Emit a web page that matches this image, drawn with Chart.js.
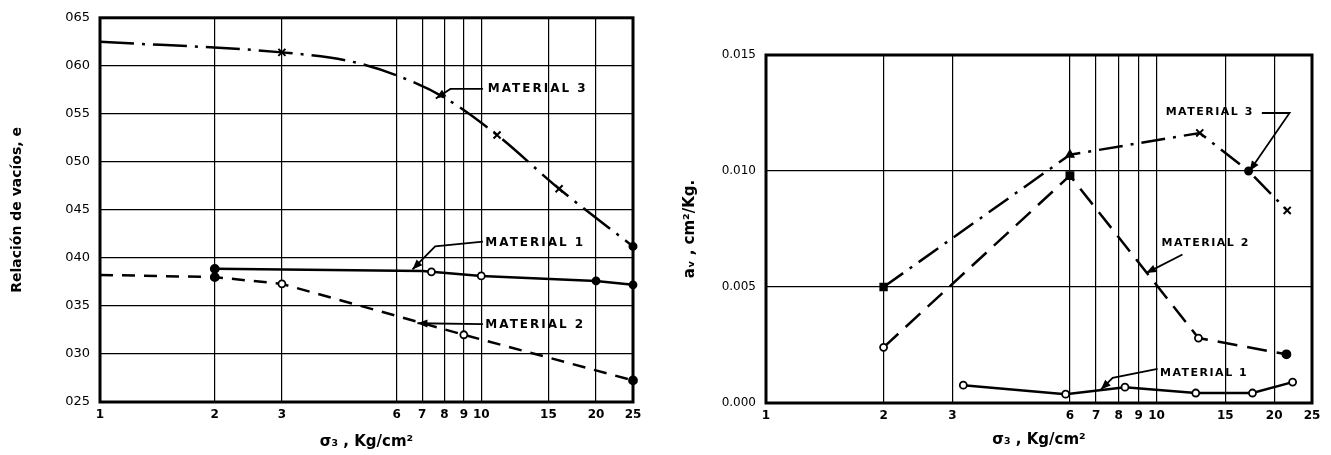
<!DOCTYPE html>
<html><head><meta charset="utf-8">
<script src="https://cdn.jsdelivr.net/npm/chart.js@4.4.0/dist/chart.umd.min.js"></script>
<style>
html,body{margin:0;padding:0;background:#fff;width:1331px;height:455px;overflow:hidden}
canvas{position:absolute;top:0}
#c1{left:0}
#c2{left:665px}
</style></head><body>
<canvas id="c1" width="665" height="455"></canvas>
<canvas id="c2" width="666" height="455"></canvas>
<script>
// ---- tick labels ----
const xTicks = [1,2,3,6,7,8,9,10,15,20,25];
const xTickLabels = ['1','2','3','6','7','8','9','10','15','20','25'];
const leftYTicks = [0.25,0.30,0.35,0.40,0.45,0.50,0.55,0.60,0.65];
const leftYTickLabels = ['025','030','035','040','045','050','055','060','065'];
const rightYTicks = [0,0.005,0.010,0.015];
const rightYTickLabels = ['0.000','0.005','0.010','0.015'];

// ---- left chart: void ratio e vs sigma3 ----
const eM3x = [1,3,4.5,6,8,11,16,25];
const eM3y = [0.625,0.614,0.605,0.590,0.567,0.528,0.472,0.412];
const eM1x = [2,7,7.4,10,20,25];
const eM1y = [0.3886,0.3865,0.3855,0.3813,0.376,0.372];
const eM2x = [1,2,3,9,25];
const eM2y = [0.3823,0.380,0.373,0.320,0.2725];

// ---- right chart: av vs sigma3 ----
const aM3x = [2,6,12.9,17.2,21.6];
const aM3y = [0.0050,0.0107,0.01164,0.0100,0.0083];
const aM2x = [2,6,12.8,21.5];
const aM2y = [0.0024,0.0098,0.0028,0.0021];
const aM1x = [3.2,5.85,8.3,12.6,17.6,22.3];
const aM1y = [0.00077,0.00038,0.00068,0.00043,0.00043,0.0009];

// ---- callout labels (data coordinates) ----
const leftCallouts = [
  {text:'MATERIAL 3', at:[10.4,0.576], path:[[7.6,0.566],[8.3,0.576],[10.1,0.576]]},
  {text:'MATERIAL 1', at:[10.25,0.416], path:[[6.6,0.388],[7.57,0.412],[10.1,0.417]]},
  {text:'MATERIAL 2', at:[10.25,0.330], path:[[6.8,0.332],[10.1,0.331]]}
];
const rightCallouts = [
  {text:'MATERIAL 3', at:[10.55,0.01254], path:[[17.3,0.0100],[21.9,0.0125],[18.6,0.0125]]},
  {text:'MATERIAL 2', at:[10.3,0.0069], path:[[9.4,0.0056],[11.65,0.0064]]},
  {text:'MATERIAL 1', at:[10.2,0.00129], path:[[7.2,0.00058],[7.72,0.00108],[10.06,0.00147]]}
];

const pts = (xs, ys) => xs.map((x,i)=>({x:x, y:ys[i]}));
const FAM = "'DejaVu Sans', sans-serif";

const framePlugin = {
  id:'frame',
  afterDatasetsDraw(chart){
    const {ctx, chartArea:a} = chart;
    ctx.save(); ctx.lineWidth = 3; ctx.strokeStyle = '#000';
    ctx.strokeRect(a.left, a.top, a.right-a.left, a.bottom-a.top);
    ctx.restore();
  }
};

function calloutPlugin(list, font, spacing){
  return {
    id:'callouts',
    afterDatasetsDraw(chart){
      const xs = chart.scales.x, ys = chart.scales.y, ctx = chart.ctx;
      ctx.save();
      ctx.strokeStyle = '#000'; ctx.fillStyle = '#000'; ctx.lineWidth = 1.8;
      list.forEach(c => {
        const p = c.path.map(([x,y]) => [xs.getPixelForValue(x), ys.getPixelForValue(y)]);
        ctx.beginPath();
        p.forEach(([px,py],i) => i ? ctx.lineTo(px,py) : ctx.moveTo(px,py));
        ctx.stroke();
        const [tx,ty] = p[0], [bx,by] = p[1];
        const ang = Math.atan2(ty-by, tx-bx), L = 10, W = 4;
        ctx.beginPath();
        ctx.moveTo(tx,ty);
        ctx.lineTo(tx - L*Math.cos(ang) + W*Math.sin(ang), ty - L*Math.sin(ang) - W*Math.cos(ang));
        ctx.lineTo(tx - L*Math.cos(ang) - W*Math.sin(ang), ty - L*Math.sin(ang) + W*Math.cos(ang));
        ctx.closePath(); ctx.fill();
        ctx.font = font; ctx.letterSpacing = spacing;
        ctx.textBaseline = 'middle'; ctx.textAlign = 'left';
        ctx.fillText(c.text, xs.getPixelForValue(c.at[0]), ys.getPixelForValue(c.at[1]));
        ctx.letterSpacing = '0px';
      });
      ctx.restore();
    }
  };
}

function xScale(height, titlePadBottom){
  return {
    type:'logarithmic', min:1, max:25,
    afterBuildTicks: s => { s.ticks = xTicks.map(v => ({value:v})); },
    afterFit: s => { s.height = height; },
    ticks:{autoSkip:false, maxRotation:0, minRotation:0, padding:6, color:'#000',
      font:{family:FAM, size:12, weight:'bold'}, callback:(v,i) => xTickLabels[i]},
    grid:{color:'#000', lineWidth:1.2, drawTicks:false},
    border:{display:false},
    title:{display:true, text:'σ₃ , Kg/cm²', color:'#000',
      font:{family:FAM, size:15, weight:'bold'}, padding:{top:0, bottom:titlePadBottom}}
  };
}

function yScale(min, max, ticks, labels, width, title, titleSize, titlePadTop, tickSize){
  return {
    type:'linear', min:min, max:max,
    afterBuildTicks: s => { s.ticks = ticks.map(v => ({value:v})); },
    afterFit: s => { s.width = width; },
    ticks:{padding:10, color:'#000', font:{family:FAM, size:tickSize}, callback:(v,i) => labels[i]},
    grid:{color:'#000', lineWidth:1.2, drawTicks:false},
    border:{display:false},
    title:{display:true, text:title, color:'#000',
      font:{family:FAM, size:titleSize, weight:'bold'}, padding:{top:titlePadTop, bottom:0}}
  };
}

const common = (padRight, padTop) => ({
  responsive:false, animation:false, devicePixelRatio:1,
  layout:{padding:{left:0, right:padRight, top:padTop, bottom:0}},
  plugins:{legend:{display:false}, tooltip:{enabled:false}},
  elements:{line:{tension:0}}
});

// ---- LEFT CHART ----
const opt1 = common(32, 17);
opt1.scales = {
  x: xScale(53, 4),
  y: yScale(0.25, 0.65, leftYTicks, leftYTickLabels, 100, 'Relación de vacíos, e', 14, 9, 13)
};
new Chart(document.getElementById('c1'), {
  type:'scatter',
  data:{datasets:[
    {label:'Material 3', data:pts(eM3x,eM3y), showLine:true, clip:false,
     borderColor:'#000', borderWidth:2.5, borderDash:[34,8,3,8], cubicInterpolationMode:'monotone',
     pointStyle:['circle','crossRot','circle','circle','circle','crossRot','crossRot','circle'],
     pointRadius:[0,5,0,0,0,5,5,3.5], pointBorderWidth:2, pointBorderColor:'#000', pointBackgroundColor:'#000'},
    {label:'Material 1', data:pts(eM1x,eM1y), showLine:true, clip:false,
     borderColor:'#000', borderWidth:2.5,
     pointStyle:'circle', pointRadius:[4,0,3.5,3.5,3.5,3.5], pointBorderWidth:1.8, pointBorderColor:'#000',
     pointBackgroundColor:['#000','#000','#fff','#fff','#000','#000']},
    {label:'Material 2', data:pts(eM2x,eM2y), showLine:true, clip:false,
     borderColor:'#000', borderWidth:2.5, borderDash:[13,9],
     pointStyle:'circle', pointRadius:[0,4,3.5,3.5,4], pointBorderWidth:1.8, pointBorderColor:'#000',
     pointBackgroundColor:['#000','#000','#fff','#fff','#000']}
  ]},
  options:opt1,
  plugins:[framePlugin, calloutPlugin(leftCallouts, "bold 12px 'DejaVu Sans'", '2px')]
});

// ---- RIGHT CHART ----
const opt2 = common(19, 55);
opt2.scales = {
  x: xScale(52, 6),
  y: yScale(0, 0.015, rightYTicks, rightYTickLabels, 101, 'aᵥ , cm²/Kg.', 15, 16, 12)
};
new Chart(document.getElementById('c2'), {
  type:'scatter',
  data:{datasets:[
    {label:'Material 3', data:pts(aM3x,aM3y), showLine:true, clip:false,
     borderColor:'#000', borderWidth:2.5, borderDash:[24,8,3,8],
     pointStyle:['rect','triangle','crossRot','circle','crossRot'],
     pointRadius:[4.5,4,5,3.5,5], pointBorderWidth:2, pointBorderColor:'#000', pointBackgroundColor:'#000'},
    {label:'Material 2', data:pts(aM2x,aM2y), showLine:true, clip:false,
     borderColor:'#000', borderWidth:2.5, borderDash:[20,10],
     pointStyle:['circle','rect','circle','circle'], pointRadius:[3.5,5,3.5,4], pointBorderWidth:1.8,
     pointBorderColor:'#000', pointBackgroundColor:['#fff','#000','#fff','#000']},
    {label:'Material 1', data:pts(aM1x,aM1y), showLine:true, clip:false,
     borderColor:'#000', borderWidth:2.5,
     pointStyle:'circle', pointRadius:3.5, pointBorderWidth:1.8, pointBorderColor:'#000', pointBackgroundColor:'#fff'}
  ]},
  options:opt2,
  plugins:[framePlugin, calloutPlugin(rightCallouts, "bold 11px 'DejaVu Sans'", '1.5px')]
});
</script>
</body></html>
